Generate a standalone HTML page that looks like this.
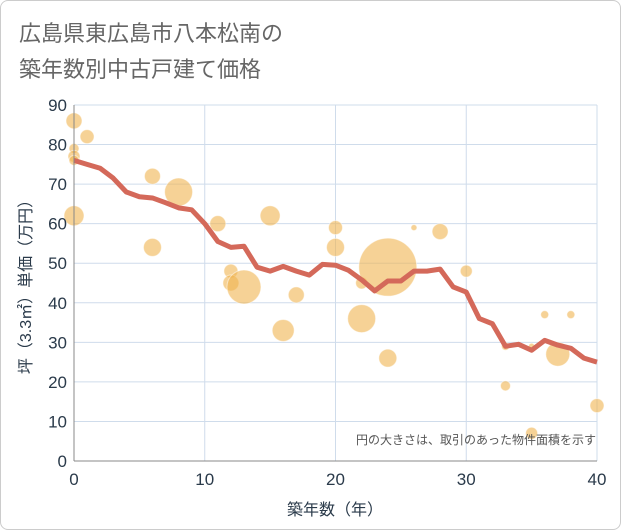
<!DOCTYPE html>
<html><head><meta charset="utf-8"><style>
body{margin:0;background:#fff;}
.wrap{width:619px;height:528px;border:1px solid #ccc;border-radius:8px;position:relative;overflow:hidden;}
text{font-family:"Liberation Sans","Noto Sans CJK JP",sans-serif;}
</style></head><body>
<div class="wrap">
<svg id="c" width="621" height="530">
<text x="18" y="40" font-size="22" fill="#666">広島県東広島市八本松南の</text>
<text x="18" y="76" font-size="22" fill="#666">築年数別中古戸建て価格</text>
<g id="grid"></g><g id="bub"></g><g id="ln"></g><g id="ax"></g>
<text x="595" y="443" font-size="12" fill="#555" text-anchor="end">円の大きさは、取引のあった物件面積を示す</text>
<text x="334" y="514" font-size="16" fill="#2a3a4a" text-anchor="middle">築年数（年）</text>
<text transform="translate(30,282) rotate(-90)" font-size="16" fill="#2a3a4a" text-anchor="middle">坪（3.3㎡）単価（万円）</text>
</svg></div>
<script>
const xTicks=[0,10,20,30,40];
const yTicks=[0,10,20,30,40,50,60,70,80,90];
const lineYears=[0,1,2,3,4,5,6,7,8,9,10,11,12,13,14,15,16,17,18,19,20,21,22,23,24,25,26,27,28,29,30,31,32,33,34,35,36,37,38,39,40];
const lineValues=[76,75,74,71.5,68,66.8,66.5,65.3,64,63.5,60,55.5,54,54.3,49,48,49.2,48,47,49.7,49.5,48.2,45.8,43,45.5,45.5,48,48,48.5,44,42.7,36,34.7,29,29.5,28,30.5,29.3,28.5,26,25];
const bubbleX=[0,1,0,0,0,0,6,6,8,11,12,12,13,15,16,17,20,20,22,22,24,24,26,28,30,33,33,35,35,36,38,37,40];
const bubbleY=[86,82,79,77,76,62,72,54,68,60,48,45,44,62,33,42,59,54,45,36,49,26,59,58,48,29,19,7,29,37,37,27,14];
const bubbleR=[8,7,5,6,5,10,8,9,14,8,7,8,17,10,11,8,7,9,6,14,29,9,3,8,6,4,5,6,3,4,4,12,7];
const X0=73,X1=596,Y0=460,Y1=104;
const sx=v=>X0+(v-0)/40*(X1-X0), sy=v=>Y0-v/90*(Y0-Y1);
const NS='http://www.w3.org/2000/svg';
function mk(p,t,a){const e=document.createElementNS(NS,t);for(const k in a)e.setAttribute(k,a[k]);p.appendChild(e);return e;}
const g=document.getElementById('grid'),ax=document.getElementById('ax');
yTicks.forEach(v=>{const l=mk(g,'line',{x1:X0,x2:X1,y1:sy(v),y2:sy(v),stroke:'#cfdceb','stroke-width':1});


const t=mk(ax,'text',{x:66,y:sy(v)+6,'font-size':17,fill:'#2a3a4a','text-anchor':'end'});t.textContent=v;

});
xTicks.forEach(v=>{const l=mk(g,'line',{x1:sx(v),x2:sx(v),y1:Y1,y2:Y0,stroke:'#cfdceb','stroke-width':1});


const t=mk(ax,'text',{x:sx(v),y:484,'font-size':17,fill:'#2a3a4a','text-anchor':'middle'});t.textContent=v;

});
const a1=mk(ax,'line',{x1:X0,x2:X0,y1:Y1,y2:Y0,stroke:'#888','stroke-width':1});


const a2=mk(ax,'line',{x1:X0,x2:X1,y1:Y0,y2:Y0,stroke:'#888','stroke-width':1});


const b=document.getElementById('bub');
bubbleX.forEach((x,i)=>{const c=mk(b,'circle',{cx:sx(x),cy:sy(bubbleY[i]),r:bubbleR[i],fill:'rgba(240,180,80,0.6)',stroke:'rgba(255,255,255,0.5)'});

});
const p=mk(document.getElementById('ln'),'polyline',{points:lineYears.map((x,i)=>sx(x)+','+sy(lineValues[i])).join(' '),fill:'none',stroke:'#d4695a','stroke-width':5,'stroke-linejoin':'round'});


</script></body></html>
